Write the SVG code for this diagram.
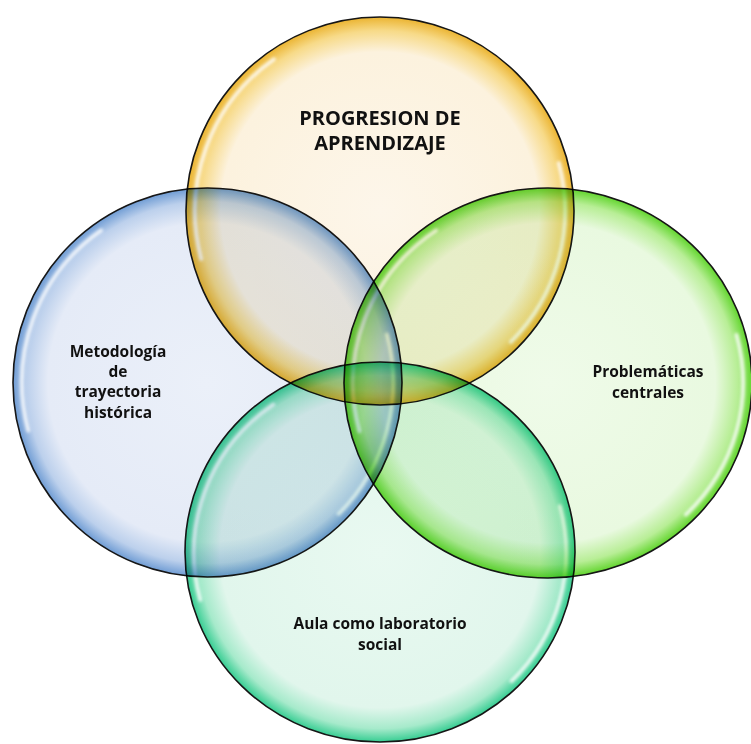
<svg xmlns="http://www.w3.org/2000/svg" width="751" height="744" viewBox="0 0 751 744">
  <style>
    .node { mix-blend-mode: multiply; }
    .ring { stroke: #161616; stroke-width: 1.6; }
    .hl { fill: none; stroke: #ffffff; stroke-width: 4; stroke-linecap: round; opacity: 0.8; filter: url(#blur); }
    .lbl { font-family: "Open Sans", "Liberation Sans", sans-serif; font-weight: bold; fill: #111111; text-anchor: middle; }
    .big { font-size: 20px; }
    .sm { font-size: 15.5px; }
  </style>
  <defs>
    <filter id="blur" x="-20%" y="-20%" width="140%" height="140%">
      <feGaussianBlur stdDeviation="1.4"/>
    </filter>
    <radialGradient id="gTop" cx="0.5" cy="0.5" r="0.5">
      <stop offset="0" stop-color="#fdf6ea"/>
      <stop offset="0.82" stop-color="#fcf2de"/>
      <stop offset="0.93" stop-color="#f7da88"/>
      <stop offset="1" stop-color="#ebb431"/>
    </radialGradient>
    <radialGradient id="gLeft" cx="0.5" cy="0.5" r="0.5">
      <stop offset="0" stop-color="#ebf0f9"/>
      <stop offset="0.82" stop-color="#e5ebf7"/>
      <stop offset="0.93" stop-color="#bcd0ec"/>
      <stop offset="1" stop-color="#6f9cd4"/>
    </radialGradient>
    <radialGradient id="gRight" cx="0.5" cy="0.5" r="0.5">
      <stop offset="0" stop-color="#effbe9"/>
      <stop offset="0.82" stop-color="#e9f9e0"/>
      <stop offset="0.93" stop-color="#b8ee96"/>
      <stop offset="1" stop-color="#62d52e"/>
    </radialGradient>
    <radialGradient id="gBottom" cx="0.5" cy="0.5" r="0.5">
      <stop offset="0" stop-color="#e9f9f1"/>
      <stop offset="0.82" stop-color="#e1f6ec"/>
      <stop offset="0.93" stop-color="#a6eacb"/>
      <stop offset="1" stop-color="#36cd92"/>
    </radialGradient>
  </defs>

  <rect x="0" y="0" width="751" height="744" fill="#ffffff"/>

  <g id="node-progresion" class="node">
    <ellipse cx="380" cy="211" rx="194" ry="194" fill="url(#gTop)" class="ring"/>
    <path class="hl" d="M201.3,258.9 A185,185 0 0 1 273.9,59.4"/>
    <path class="hl" d="M558.7,163.1 A185,185 0 0 1 510.8,341.8"/>
  </g>

  <g id="node-metodologia" class="node">
    <ellipse cx="207.5" cy="382.5" rx="194.5" ry="194.5" fill="url(#gLeft)" class="ring"/>
    <path class="hl" d="M28.3,430.5 A185.5,185.5 0 0 1 101.1,230.5"/>
    <path class="hl" d="M386.7,334.5 A185.5,185.5 0 0 1 338.7,513.7"/>
  </g>

  <g id="node-problematicas" class="node">
    <ellipse cx="548" cy="383" rx="204" ry="195" fill="url(#gRight)" class="ring"/>
    <path class="hl" d="M359.6,431.1 A195,186 0 0 1 436.1,230.6"/>
    <path class="hl" d="M736.4,334.9 A195,186 0 0 1 685.9,514.5"/>
  </g>

  <g id="node-aula" class="node">
    <ellipse cx="380" cy="552" rx="195" ry="190" fill="url(#gBottom)" class="ring"/>
    <path class="hl" d="M200.3,599.8 A186,181 0 0 1 273.3,404.7"/>
    <path class="hl" d="M559.7,506.2 A186,181 0 0 1 511.5,681"/>
  </g>

  <g id="connectors"></g>

  <g id="labels">
    <text class="lbl big" x="380" y="125">PROGRESION DE</text>
    <text class="lbl big" x="380" y="150">APRENDIZAJE</text>
    <text class="lbl sm" x="118" y="357">Metodología</text>
    <text class="lbl sm" x="118" y="377">de</text>
    <text class="lbl sm" x="118" y="397">trayectoria</text>
    <text class="lbl sm" x="118" y="418">histórica</text>
    <text class="lbl sm" x="648" y="377">Problemáticas</text>
    <text class="lbl sm" x="648" y="397.5">centrales</text>
    <text class="lbl sm" x="380" y="629">Aula como laboratorio</text>
    <text class="lbl sm" x="380" y="649.5">social</text>
  </g>
</svg>
